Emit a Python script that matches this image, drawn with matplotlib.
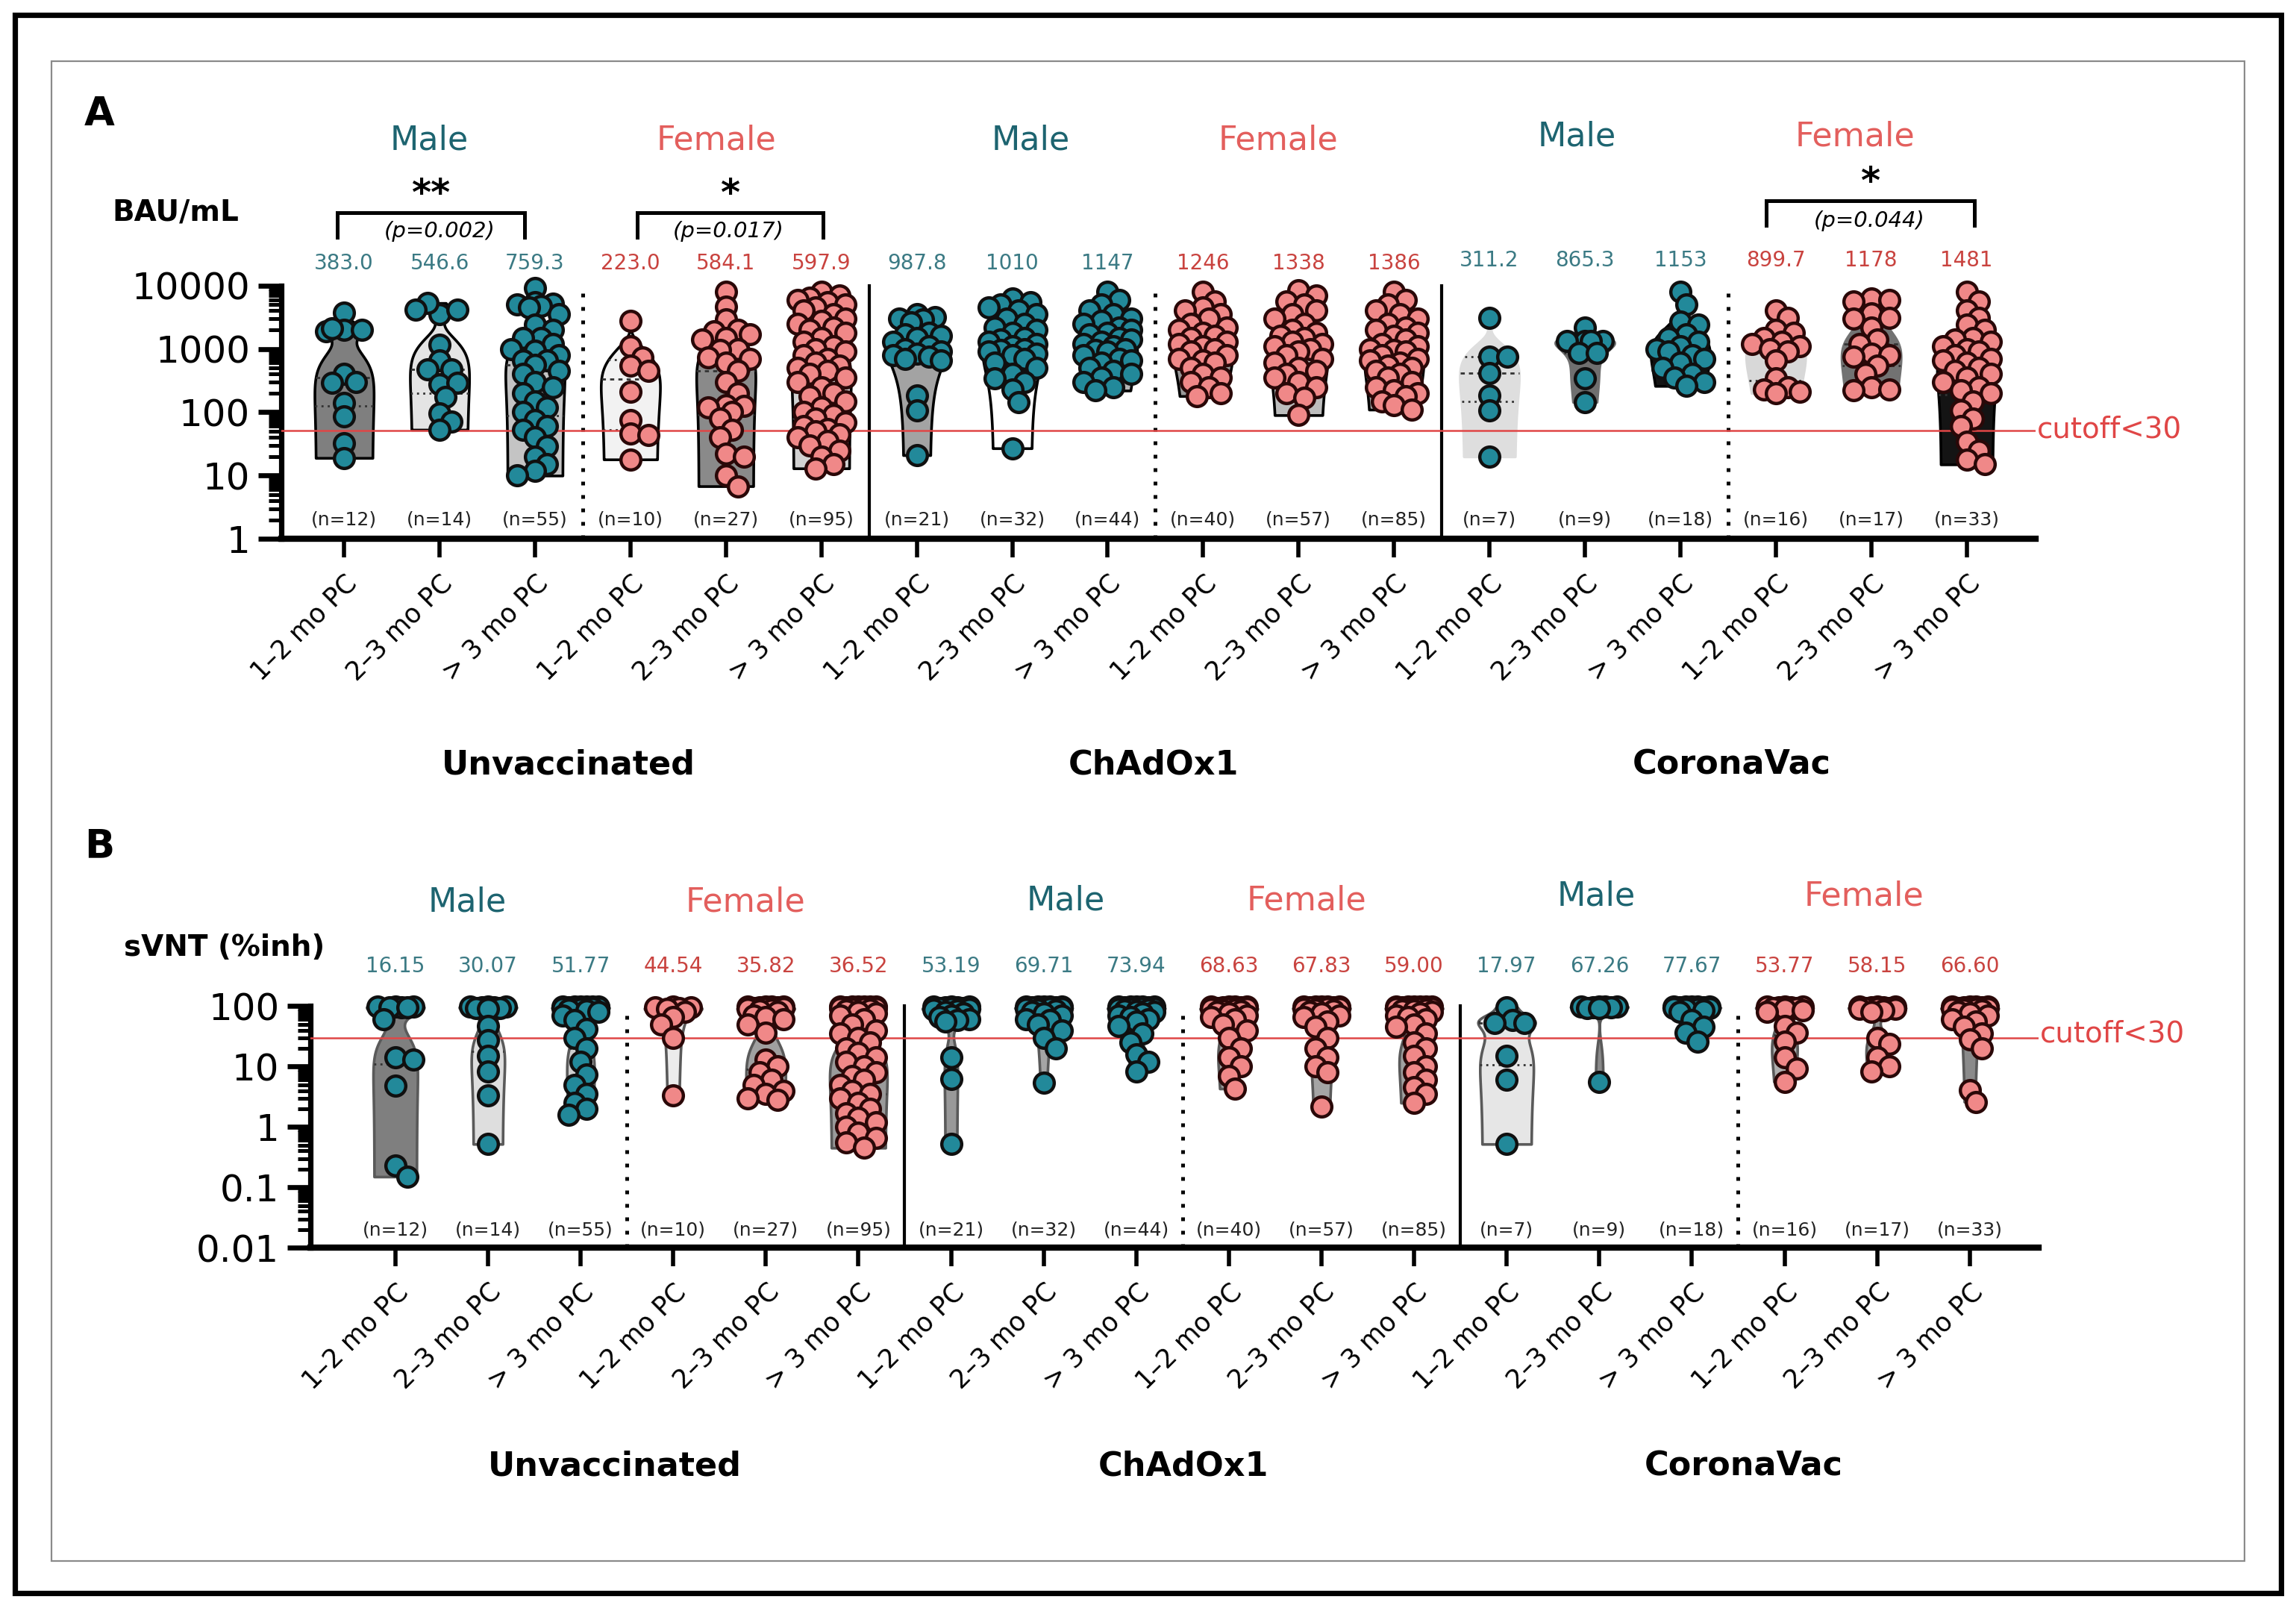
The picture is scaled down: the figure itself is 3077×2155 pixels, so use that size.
import numpy as np
import matplotlib
matplotlib.use('Agg')
import matplotlib.pyplot as plt
from matplotlib import transforms
from matplotlib.patches import Rectangle
from matplotlib.ticker import FixedLocator, NullFormatter

# ---------------- DATA ----------------
time_labels = ['1–2 mo PC', '2–3 mo PC', '> 3 mo PC']
vaccine_groups = ['Unvaccinated', 'ChAdOx1', 'CoronaVac']
sexes = ['Male', 'Female']
n_counts = [12, 14, 55, 10, 27, 95, 21, 32, 44, 40, 57, 85, 7, 9, 18, 16, 17, 33]

bau_summary = ['383.0', '546.6', '759.3', '223.0', '584.1', '597.9',
               '987.8', '1010', '1147', '1246', '1338', '1386',
               '311.2', '865.3', '1153', '899.7', '1178', '1481']
svnt_summary = ['16.15', '30.07', '51.77', '44.54', '35.82', '36.52',
                '53.19', '69.71', '73.94', '68.63', '67.83', '59.00',
                '17.97', '67.26', '77.67', '53.77', '58.15', '66.60']

# Panel A : anti-spike IgG (BAU/mL)
bau_unvac_m_12 = [3700, 2000, 2000, 1900, 2100, 400, 300, 290, 140, 85, 32, 19]
bau_unvac_m_23 = [3500, 4200, 5300, 4200, 1170, 650, 480, 470, 280, 290, 175, 96, 71, 53]
bau_unvac_m_3 = [9100, 5500, 5200, 5000, 4800, 4500, 3500, 2400, 2000, 1500, 1500, 1200,
                 1000, 930, 800, 650, 650, 560, 450, 400, 300, 250, 200, 150, 120, 100,
                 76, 60, 53, 40, 29, 20, 15, 12, 10]
bau_unvac_f_12 = [2800, 1100, 730, 540, 450, 210, 75, 46, 44, 18]
bau_unvac_f_23 = [8000, 4700, 2900, 2000, 1900, 1700, 1500, 1400, 1000, 950, 730, 700, 600,
                  450, 300, 200, 130, 125, 120, 100, 80, 53, 40, 22, 20, 10, 6.8]
bau_unvac_f_3 = [8000, 7000, 6500, 6000, 5500, 5000, 4500, 4000, 3500, 3000, 2800, 2500,
                 2200, 2000, 1800, 1500, 1300, 1100, 1000, 900, 800, 700, 600, 550, 500,
                 450, 400, 350, 300, 250, 200, 180, 150, 120, 100, 90, 80, 70, 60, 55, 50,
                 45, 40, 35, 30, 25, 20, 15, 13]
bau_chad_m_12 = [3500, 3200, 3000, 2900, 2600, 1800, 1700, 1600, 1500, 1300, 1100, 1000,
                 900, 850, 800, 750, 700, 650, 185, 107, 21]
bau_chad_m_23 = [6300, 5500, 5000, 4500, 4000, 3500, 3000, 2500, 2200, 2000, 1800, 1500,
                 1400, 1300, 1200, 1100, 1000, 950, 900, 850, 800, 700, 600, 500, 400, 340,
                 300, 230, 145, 27]
bau_chad_m_3 = [8000, 6000, 5000, 4000, 3500, 3000, 2800, 2500, 2200, 2000, 1800, 1700,
                1500, 1400, 1300, 1200, 1100, 1000, 950, 900, 800, 700, 650, 600, 500, 450,
                400, 350, 300, 250, 220]
bau_chad_f_12 = [8000, 5600, 4500, 4000, 3500, 3000, 2500, 2200, 2000, 1800, 1600, 1500,
                 1300, 1200, 1100, 1000, 900, 800, 700, 650, 600, 500, 400, 350, 300, 250,
                 200, 180]
bau_chad_f_23 = [8500, 7000, 5600, 5000, 4000, 3500, 3000, 2500, 2000, 1800, 1600, 1500,
                 1300, 1200, 1100, 1000, 900, 800, 700, 600, 500, 450, 400, 350, 300, 250,
                 200, 170, 90]
bau_chad_f_3 = [8000, 6000, 5000, 4000, 3500, 3000, 2500, 2200, 2000, 1800, 1600, 1400,
                1200, 1100, 1000, 950, 900, 800, 700, 650, 600, 550, 500, 450, 400, 350,
                300, 250, 220, 200, 180, 150, 130, 110]
bau_cv_m_12 = [3100, 750, 750, 415, 186, 108, 20]
bau_cv_m_23 = [2150, 1330, 1330, 1330, 1330, 870, 870, 340, 145]
bau_cv_m_3 = [8000, 5000, 2700, 2400, 1700, 1500, 1300, 1100, 1000, 900, 800, 700, 600,
              500, 400, 350, 300, 260]
bau_cv_f_12 = [4100, 3100, 2000, 1800, 1500, 1300, 1200, 1100, 1000, 900, 650, 340, 250,
               230, 210, 200]
bau_cv_f_23 = [6300, 6000, 5600, 3600, 3100, 3000, 2150, 1400, 1200, 850, 800, 750, 540,
               400, 250, 230, 220]
bau_cv_f_3 = [8000, 5600, 4000, 3100, 2400, 2000, 1500, 1400, 1300, 1100, 1000, 900, 800,
              700, 650, 600, 500, 450, 400, 350, 300, 250, 220, 200, 150, 108, 80, 60, 34,
              25, 18, 15]

# Panel B : sVNT (% inhibition)
svnt_unvac_m_12 = [98, 97, 97, 96, 95, 95, 61, 14, 13, 4.8, 0.23, 0.15]
svnt_unvac_m_23 = [99, 98, 97, 96, 95, 94, 93, 90, 47, 27, 15, 8.3, 3.3, 0.52]
svnt_unvac_m_3 = [99, 99, 98, 98, 97, 97, 96, 96, 95, 95, 94, 93, 92, 90, 88, 85, 80, 70,
                  58, 42, 30, 20, 12, 7.4, 5, 3.5, 2.5, 2, 1.6]
svnt_unvac_f_12 = [97, 96, 95, 94, 90, 80, 65, 50, 30, 3.3]
svnt_unvac_f_23 = [99, 98, 98, 97, 96, 95, 94, 93, 92, 90, 88, 85, 80, 70, 65, 60, 50, 36,
                   13, 10, 8, 6, 5, 4, 3.5, 3, 2.8]
svnt_unvac_f_3 = [99, 99, 98, 98, 97, 97, 96, 95, 94, 93, 92, 90, 88, 85, 80, 75, 70, 60,
                  50, 40, 35, 30, 25, 20, 17, 14, 12, 10, 8, 7, 6, 5, 4, 3.5, 3, 2.5, 2,
                  1.7, 1.4, 1.2, 1, 0.8, 0.65, 0.55, 0.45]
svnt_chad_m_12 = [99, 98, 97, 96, 95, 94, 93, 92, 90, 88, 85, 80, 75, 70, 65, 60, 58, 55,
                  14, 6.3, 0.52]
svnt_chad_m_23 = [99, 99, 98, 98, 97, 96, 95, 94, 93, 92, 90, 88, 85, 80, 75, 70, 60, 58,
                  50, 40, 30, 20, 5.4]
svnt_chad_m_3 = [99, 99, 98, 98, 97, 96, 95, 94, 93, 92, 91, 90, 88, 85, 82, 80, 75, 70,
                 65, 60, 55, 47, 35, 25, 16, 12, 8.3]
svnt_chad_f_12 = [99, 99, 98, 97, 96, 95, 94, 93, 92, 90, 88, 85, 82, 80, 75, 70, 65, 60,
                  50, 40, 30, 20, 14, 10, 7, 4.3]
svnt_chad_f_23 = [99, 99, 98, 98, 97, 96, 95, 94, 93, 92, 90, 88, 85, 80, 75, 70, 65, 55,
                  45, 30, 20, 14, 10, 8, 2.2]
svnt_chad_f_3 = [99, 99, 98, 98, 97, 97, 96, 95, 94, 93, 92, 90, 88, 86, 84, 80, 75, 70,
                 65, 60, 50, 45, 35, 25, 20, 15, 10, 8, 6, 4.5, 3.5, 2.5]
svnt_cv_m_12 = [95, 58, 52, 52, 15, 6.1, 0.52]
svnt_cv_m_23 = [99, 98, 98, 97, 96, 95, 94, 93, 5.6]
svnt_cv_m_3 = [99, 99, 98, 97, 97, 96, 95, 94, 93, 92, 91, 90, 85, 80, 58, 45, 36, 26]
svnt_cv_f_12 = [99, 98, 97, 96, 95, 94, 93, 90, 85, 80, 47, 36, 26, 14, 9.2, 5.6]
svnt_cv_f_23 = [99, 98, 97, 96, 95, 94, 93, 92, 91, 90, 85, 80, 30, 24, 14, 10, 8.3]
svnt_cv_f_3 = [99, 99, 98, 97, 96, 95, 94, 93, 92, 91, 90, 88, 85, 80, 75, 70, 60, 55, 45,
               35, 28, 20, 4.1, 2.6]

bau_cutoff = 52
svnt_cutoff = 30

groups_A = [bau_unvac_m_12, bau_unvac_m_23, bau_unvac_m_3, bau_unvac_f_12, bau_unvac_f_23,
            bau_unvac_f_3, bau_chad_m_12, bau_chad_m_23, bau_chad_m_3, bau_chad_f_12,
            bau_chad_f_23, bau_chad_f_3, bau_cv_m_12, bau_cv_m_23, bau_cv_m_3, bau_cv_f_12,
            bau_cv_f_23, bau_cv_f_3]
groups_B = [svnt_unvac_m_12, svnt_unvac_m_23, svnt_unvac_m_3, svnt_unvac_f_12,
            svnt_unvac_f_23, svnt_unvac_f_3, svnt_chad_m_12, svnt_chad_m_23, svnt_chad_m_3,
            svnt_chad_f_12, svnt_chad_f_23, svnt_chad_f_3, svnt_cv_m_12, svnt_cv_m_23,
            svnt_cv_m_3, svnt_cv_f_12, svnt_cv_f_23, svnt_cv_f_3]

# ---------------- STYLE ----------------
plt.rcParams['font.family'] = ['DejaVu Sans']
TEAL_PT = '#22899a'
PINK_PT = '#f08888'
TEAL_TXT = '#1d6470'
PINK_TXT = '#e35f5d'
TEAL_NUM = '#3b7a84'
PINK_NUM = '#c9433f'
CUT = '#e04646'

fill_A = ['#7f7f7f', '#e4e4e4', '#c4c4c4', '#f2f2f2', '#8a8a8a', '#d2d2d2',
          '#a3a3a3', '#ffffff', '#b5b5b5', '#999999', '#bdbdbd', '#a8a8a8',
          '#dedede', '#6f6f6f', '#141414', '#d8d8d8', '#727272', '#141414']
edge_A = ['k'] * 12 + ['#dedede', '#6f6f6f', 'k', '#d8d8d8', '#727272', 'k']
fill_B = ['#7f7f7f', '#dedede', '#cfcfcf', '#ececec', '#a0a0a0', '#9a9a9a',
          '#999999', '#a5a5a5', '#b0b0b0', '#a0a0a0', '#a5a5a5', '#a0a0a0',
          '#e6e6e6', '#8a8a8a', '#a0a0a0', '#b0b0b0', '#9a9a9a', '#8a8a8a']
edge_B = ['#5a5a5a'] * 18

W, H = 1568.0, 1098.0
def fx(x): return x / W
def fy(y): return 1 - y / H

fig = plt.figure(figsize=(15.385, 10.775), dpi=200)
fig.add_artist(Rectangle((fx(10), fy(1088)), fx(1558) - fx(10), fy(10) - fy(1088),
                         transform=fig.transFigure, fill=False, lw=2.6, ec='k'))
fig.add_artist(Rectangle((fx(35), fy(1066)), fx(1533) - fx(35), fy(42) - fy(1066),
                         transform=fig.transFigure, fill=False, lw=0.8, ec='#8a8a8a'))

MS = 92  # marker area (pt^2)
D_PX = np.sqrt(MS) * fig.dpi / 72.0


def swarm(ax, xc, vals, maxoff):
    trans = ax.transData
    v = np.asarray(vals, float)
    ypx = trans.transform(np.column_stack([np.full(len(v), xc), v]))[:, 1]
    ppx = trans.transform((1, 1))[0] - trans.transform((0, 1))[0]
    step = D_PX * 0.3
    cands = [0.0]
    k = 1
    while k * step <= maxoff * ppx:
        cands += [k * step, -k * step]
        k += 1
    placed = []
    xs = []
    for y in ypx:
        best, bestd = 0.0, -1
        for c in cands:
            if not placed:
                best = c
                break
            arr = np.array(placed)
            dd = np.sqrt((arr[:, 0] - c) ** 2 + (arr[:, 1] - y) ** 2).min()
            if dd >= 0.66 * D_PX:
                best = c
                break
            if dd > bestd:
                bestd, best = dd, c
        placed.append((best, y))
        xs.append(xc + best / ppx)
    return np.array(xs)


def violin(ax, xc, vals, fc, ec, halfw=0.31):
    v = np.asarray(vals, float)
    lo, hi = v.min(), v.max()
    grid = np.logspace(np.log10(lo), np.log10(hi), 300)
    h = 1.06 * v.std() * len(v) ** (-0.2) * 0.75
    if h <= 0:
        h = 1.0
    dens = np.exp(-0.5 * ((grid[:, None] - v[None, :]) / h) ** 2).sum(1)
    w = halfw * dens / dens.max()
    ax.fill_betweenx(grid, xc - w, xc + w, facecolor=fc, edgecolor=ec, lw=1.3, zorder=2)
    for q, ls in ((50, (0, (2, 2))), (25, (0, (1, 2))), (75, (0, (1, 2)))):
        qv = np.percentile(v, q)
        wq = np.interp(qv, grid, w)
        ax.plot([xc - wq, xc + wq], [qv, qv], color='#333333', lw=1.0, ls=ls, zorder=2.2)


def setup_axes(ax, ylo, yhi, ticks, ticklabels, xl, xr):
    ax.set_yscale('log')
    ax.set_ylim(ylo, yhi)
    ax.set_xlim(xl, xr)
    ax.spines['top'].set_visible(False)
    ax.spines['right'].set_visible(False)
    ax.spines['left'].set_linewidth(2.6)
    ax.spines['bottom'].set_linewidth(3.0)
    ax.set_yticks(ticks)
    ax.set_yticklabels(ticklabels, fontsize=18)
    minors = []
    d = ylo
    while d < yhi:
        minors += [d * k for k in range(2, 10)]
        d *= 10
    ax.yaxis.set_minor_locator(FixedLocator(minors))
    ax.yaxis.set_minor_formatter(NullFormatter())
    ax.tick_params(axis='y', which='major', length=11, width=2.4, pad=4)
    ax.tick_params(axis='y', which='minor', length=6, width=1.8)
    ax.set_xticks(range(18))
    ax.set_xticklabels(time_labels * 6, rotation=45, ha='right',
                       rotation_mode='anchor', fontsize=12.5)
    ax.tick_params(axis='x', length=9, width=2.0, pad=6)
    ax.patch.set_alpha(0)


def draw_panel(ax, groups, fills, edges, ylo, yhi, cutoff):
    for x in (5.5, 11.5):
        ax.plot([x, x], [ylo, yhi], color='k', lw=1.5, zorder=1.5, clip_on=False)
    for x in (2.5, 8.5, 14.5):
        ax.plot([x, x], [ylo, yhi], color='k', lw=1.8, ls=(0, (1, 2.6)), zorder=1.5,
                clip_on=False)
    for i, vals in enumerate(groups):
        violin(ax, i, vals, fills[i], edges[i])
    ax.axhline(cutoff, color=CUT, lw=0.9, zorder=2.6)
    for i, vals in enumerate(groups):
        male = (i // 3) % 2 == 0
        xs = swarm(ax, i, vals, 0.25)
        ax.scatter(xs, vals, s=MS, c=TEAL_PT if male else PINK_PT,
                   edgecolors='#101010' if male else '#2a0808', linewidths=1.6,
                   zorder=3, clip_on=False)


# ---------------- PANEL A ----------------
axA = fig.add_axes([fx(192), fy(368), fx(1390) - fx(192), fy(195) - fy(368)])
setup_axes(axA, 1, 10000, [1, 10, 100, 1000, 10000], ['1', '10', '100', '1000', '10000'],
           -0.66, 17.72)
draw_panel(axA, groups_A, fill_A, edge_A, 1, 10000, bau_cutoff)

# ---------------- PANEL B ----------------
axB = fig.add_axes([fx(212), fy(852), fx(1392) - fx(212), fy(687) - fy(852)])
setup_axes(axB, 0.01, 100, [0.01, 0.1, 1, 10, 100], ['0.01', '0.1', '1', '10', '100'],
           -0.917, 17.74)
draw_panel(axB, groups_B, fill_B, edge_B, 0.01, 100, svnt_cutoff)

# ---------------- TEXT ----------------
tA = transforms.blended_transform_factory(axA.transData, fig.transFigure)
tB = transforms.blended_transform_factory(axB.transData, fig.transFigure)

fig.text(fx(68), fy(78), 'A', fontsize=19, fontweight='bold', ha='center', va='center')
fig.text(fx(68), fy(578), 'B', fontsize=19, fontweight='bold', ha='center', va='center')
fig.text(fx(120), fy(145), 'BAU/mL', fontsize=14, fontweight='bold', ha='center', va='center')
fig.text(fx(153), fy(647), 'sVNT (%inh)', fontsize=14, fontweight='bold', ha='center',
         va='center')

sexA = [(0.89, 96), (3.90, 96), (7.19, 96), (9.79, 96), (12.92, 93), (15.83, 93)]
sexB = [(0.78, 616), (3.78, 616), (7.24, 615), (9.84, 615), (12.97, 612), (15.86, 612)]
for k, ((xa, ya), (xb, yb)) in enumerate(zip(sexA, sexB)):
    s = sexes[k % 2]
    col = TEAL_TXT if s == 'Male' else PINK_TXT
    axA.text(xa, fy(ya), s, transform=tA, fontsize=16, color=col, ha='center', va='center')
    axB.text(xb, fy(yb), s, transform=tB, fontsize=16, color=col, ha='center', va='center')

for i in range(18):
    male = (i // 3) % 2 == 0
    col = TEAL_NUM if male else PINK_NUM
    axA.text(i, fy(180 if i < 12 else 178), bau_summary[i], transform=tA, fontsize=10,
             color=col, ha='center', va='center')
    axB.text(i, fy(660), svnt_summary[i], transform=tB, fontsize=10, color=col,
             ha='center', va='center')
    axA.text(i, fy(355), '(n=%d)' % n_counts[i], transform=tA, fontsize=9, color='#222222',
             ha='center', va='center')
    axB.text(i, fy(840), '(n=%d)' % n_counts[i], transform=tB, fontsize=9, color='#222222',
             ha='center', va='center')

grpA = [2.35, 8.48, 14.54]
grpB = [2.37, 8.51, 14.56]
for g, xa, xb in zip(vaccine_groups, grpA, grpB):
    axA.text(xa, fy(522), g, transform=tA, fontsize=16, fontweight='bold', ha='center',
             va='center')
    axB.text(xb, fy(1001), g, transform=tB, fontsize=16, fontweight='bold', ha='center',
             va='center')

fig.text(fx(1391), fy(293), 'cutoff<30', fontsize=14, color=CUT, ha='left', va='center')
fig.text(fx(1393), fy(706), 'cutoff<30', fontsize=14, color=CUT, ha='left', va='center')

# significance brackets (panel A)
brackets = [(-0.07, 1.89, 145, 162, '**', 133, '(p=0.002)', 158, 1.0),
            (3.07, 5.02, 145, 162, '*', 133, '(p=0.017)', 158, 4.03),
            (14.90, 17.08, 137, 154, '*', 125, '(p=0.044)', 151, 15.98)]
for x0, x1, ytop, ybot, star, ystar, ptxt, yp, xmid in brackets:
    axA.plot([x0, x0, x1, x1], [fy(ybot), fy(ytop), fy(ytop), fy(ybot)], transform=tA,
             color='k', lw=1.8, clip_on=False, solid_joinstyle='miter')
    axA.text((x0 + x1) / 2, fy(ystar), star, transform=tA, fontsize=18, fontweight='bold',
             ha='center', va='center')
    axA.text(xmid, fy(yp), ptxt, transform=tA, fontsize=10.5, style='italic',
             ha='center', va='center')

fig.savefig('out.png', dpi=200, facecolor='white')
